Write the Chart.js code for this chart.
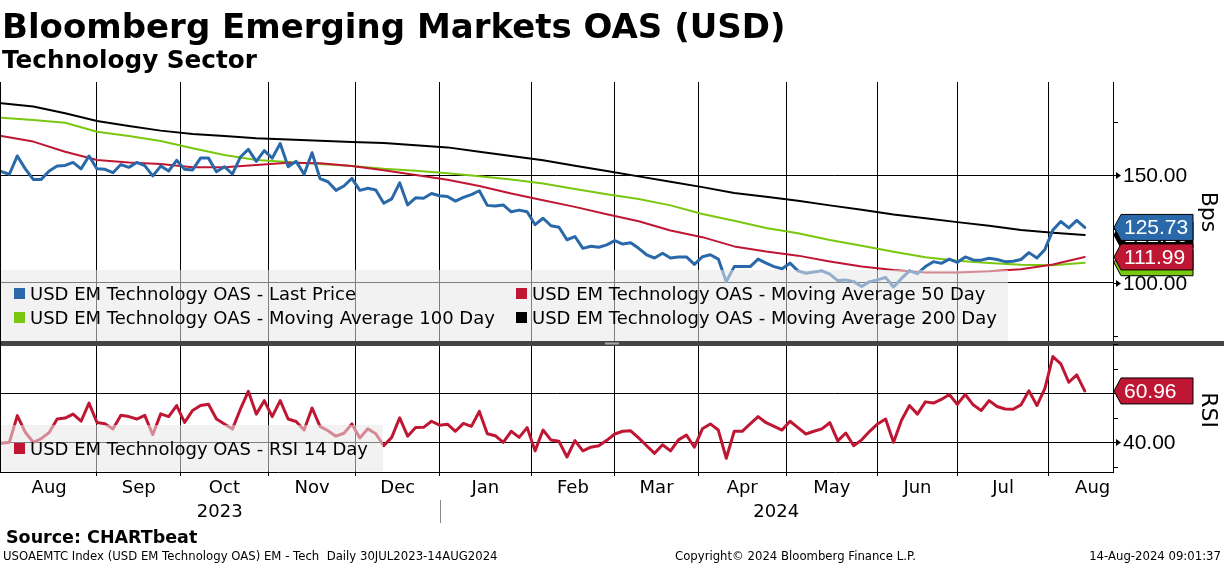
<!DOCTYPE html>
<html>
<head>
<meta charset="utf-8">
<script src="https://cdn.jsdelivr.net/npm/chart.js@4.4.1/dist/chart.umd.min.js"></script>
<style>
  body { margin: 0; background: #fff; }
  #wrap { position: relative; width: 1224px; height: 566px; overflow: hidden; background: #fff; }
  #oasChart { position: absolute; left: 0; top: 0; }
  .txt { position: absolute; white-space: pre; color: #000; font-family: "DejaVu Sans", sans-serif; }
  #title { left: 2px; top: 8.5px; font-size: 34px; line-height: 34px; font-weight: bold; }
  #subtitle { left: 2px; top: 47.5px; font-size: 24.7px; line-height: 24.7px; font-weight: bold; }
  #source { left: 6px; top: 528.5px; font-size: 17.5px; line-height: 17.5px; font-weight: bold; }
  .small { font-size: 11.7px; line-height: 11.7px; top: 551px; }
  #foot1 { left: 3px; }
  #foot2 { left: 675px; }
  #foot3 { right: 3px; }
</style>
</head>
<body>
<div id="wrap">
  <canvas id="oasChart" width="1224" height="566"></canvas>
  <div class="txt" id="title">Bloomberg Emerging Markets OAS (USD)</div>
  <div class="txt" id="subtitle">Technology Sector</div>
  <div class="txt" id="source">Source: CHARTbeat</div>
  <div class="txt small" id="foot1">USOAEMTC Index (USD EM Technology OAS) EM - Tech  Daily 30JUL2023-14AUG2024</div>
  <div class="txt small" id="foot2">Copyright© 2024 Bloomberg Finance L.P.</div>
  <div class="txt small" id="foot3">14-Aug-2024 09:01:37</div>
</div>
<script>
// x axis = trading day index, 0 = Mon 31 Jul 2023, 272 = Wed 14 Aug 2024
const monthLabels = ['Aug', 'Sep', 'Oct', 'Nov', 'Dec', 'Jan', 'Feb', 'Mar', 'Apr', 'May', 'Jun', 'Jul', 'Aug'];
const yearLabels = ['2023', '2024'];

// OAS last price, one reading every 2 trading days (bps)
const priceStep = 2;
const lastPrice = [
  151.7, 150.5, 159.0, 153.0, 148.1, 148.1, 152.0, 154.3, 154.6, 156.0,
  153.0, 159.0, 153.0, 152.8, 151.2, 155.0, 153.7, 156.0, 154.5, 149.7,
  154.3, 152.0, 157.0, 152.8, 152.5, 158.0, 158.0, 151.7, 154.0, 150.6,
  158.5, 162.1, 156.5, 161.5, 158.0, 164.8, 154.0, 156.5, 150.5, 160.5,
  148.5, 147.0, 143.0, 145.0, 148.6, 143.0, 144.0, 143.2, 137.0, 139.0,
  146.5, 136.2, 139.5, 139.3, 141.5, 140.5, 140.1, 138.0, 139.7, 141.0,
  142.8, 136.0, 135.7, 136.2, 133.0, 133.8, 133.0, 127.0, 130.0, 126.5,
  125.8, 120.0, 121.5, 116.0, 117.0, 116.5, 117.6, 119.6, 118.0, 118.6,
  116.0, 113.0, 111.5, 113.7, 111.5, 112.0, 112.0, 108.5, 112.1, 113.0,
  111.0, 100.5, 107.5, 107.6, 107.5, 111.0, 109.1, 107.5, 106.5, 109.1,
  105.5, 104.4, 105.0, 105.5, 104.0, 101.0, 101.3, 100.5, 98.2, 100.5,
  101.3, 102.5, 98.0, 102.0, 105.5, 104.2, 107.5, 109.8, 109.0, 111.0,
  109.5, 112.0, 110.6, 110.5, 111.4, 110.8, 109.8, 110.0, 110.8, 114.0,
  111.5, 115.5, 124.5, 128.5, 125.5, 129.0, 125.73
];

// moving averages, one reading every 8 trading days
const maStep = 8;
const ma50 = [
  168.3, 165.7, 161.0, 157.1, 156.0, 155.3, 153.7, 153.7, 154.8, 155.9,
  155.6, 154.3, 152.3, 150.1, 147.9, 145.0, 141.5, 138.4, 135.3, 131.9,
  128.6, 124.3, 121.2, 116.9, 114.5, 112.6, 109.9, 107.5, 105.9, 104.7,
  104.7, 105.3, 106.3, 108.5, 111.99
];
const ma100 = [
  176.8, 175.7, 174.5, 170.3, 168.3, 166.0, 162.6, 159.5, 157.1, 156.2,
  155.3, 154.3, 153.0, 152.1, 151.0, 149.6, 148.0, 146.2, 143.6, 141.2,
  139.0, 136.0, 132.0, 128.8, 125.5, 123.0, 119.9, 117.2, 114.4, 111.9,
  110.2, 109.2, 108.3, 108.1, 109.3
];
const ma200 = [
  183.5, 182.0, 178.9, 175.3, 173.0, 170.8, 169.2, 168.3, 167.2, 166.7,
  166.1, 165.5, 165.0, 164.0, 163.0, 161.0, 159.0, 157.0, 154.5, 152.0,
  149.5, 147.0, 144.5, 141.8, 140.0, 138.2, 136.0, 134.0, 131.8, 130.0,
  128.2, 126.5, 124.5, 123.2, 122.2
];

// RSI 14 day, one reading every 2 trading days
const rsiStep = 2;
const rsi14 = [
  39.6, 40.0, 50.9, 44.1, 40.0, 41.5, 44.0, 49.5, 49.9, 51.5,
  48.6, 56.0, 48.1, 47.6, 45.4, 51.0, 50.5, 49.5, 51.0, 43.1,
  51.6, 50.5, 55.0, 48.1, 53.0, 55.0, 55.5, 49.5, 47.5, 45.4,
  53.5, 60.8, 51.5, 57.0, 50.5, 57.0, 49.5, 48.5, 45.0, 54.0,
  46.5, 44.7, 42.5, 43.7, 47.5, 41.8, 45.5, 43.5, 38.6, 42.0,
  50.0, 42.5, 46.0, 46.1, 48.6, 47.0, 47.4, 44.5, 47.7, 46.5,
  52.6, 43.5, 42.7, 40.0, 44.5, 42.0, 46.0, 36.5, 45.0, 40.9,
  40.4, 34.0, 40.7, 36.5, 38.0, 38.6, 40.8, 43.4, 44.5, 44.7,
  41.8, 38.6, 35.5, 39.0, 36.5, 41.0, 43.0, 38.0, 45.5, 47.5,
  45.0, 33.5, 44.5, 44.5, 47.5, 50.5, 48.0, 46.5, 45.0, 48.6,
  46.0, 43.4, 44.5, 45.5, 48.0, 40.6, 43.8, 38.6, 41.0, 44.5,
  47.5, 49.5, 40.0, 49.0, 55.0, 51.5, 56.5, 56.0, 57.5, 59.5,
  55.5, 59.5, 55.3, 53.0, 57.0, 54.6, 53.6, 53.5, 55.3, 61.0,
  55.0, 62.0, 75.0, 72.0, 64.5, 67.5, 60.96
];

const seriesNames = [
  'USD EM Technology OAS - Last Price',
  'USD EM Technology OAS - Moving Average 50 Day',
  'USD EM Technology OAS - Moving Average 100 Day',
  'USD EM Technology OAS - Moving Average 200 Day',
  'USD EM Technology OAS - RSI 14 Day'
];
const BLUE = '#2a69a9', RED = '#bf1733', GREEN = '#7ac70f', BLACK = '#000000';

// weekday calendar used by the axis (runs to the end of Aug 2024)
const calendar = [];
for (let d = new Date(Date.UTC(2023, 6, 31)); d <= new Date(Date.UTC(2024, 7, 31)); d.setUTCDate(d.getUTCDate() + 1)) {
  const wd = d.getUTCDay();
  if (wd !== 0 && wd !== 6) calendar.push(new Date(d));
}
const monthStarts = [];
for (let i = 1; i < calendar.length; i++) {
  if (calendar[i].getUTCMonth() !== calendar[i - 1].getUTCMonth()) monthStarts.push(i);
}
monthStarts.push(calendar.length);
const gridTicks = monthStarts.slice(1, -1);           // Sep 2023 .. Aug 2024
const labelTicks = new Map();
monthLabels.forEach((m, k) => {
  const a = k === 0 ? 0 : monthStarts[k];
  labelTicks.set((a + monthStarts[k + 1]) / 2, m);
});
const newYear = monthStarts[5];                       // 1 Jan 2024
const X_MIN = -0.35, X_MAX = 279.1;

const toPoints = (vals, step) => vals.map((v, k) => ({ x: k * step, y: v }));

const panelDecor = {
  id: 'panelDecor',
  afterDatasetsDraw(chart) {
    const { ctx, chartArea, scales } = chart;
    const yP = scales.y, yR = scales.y2, xs = scales.x;
    const R = chartArea.right;
    ctx.save();

    // legend panels (semi transparent)
    ctx.fillStyle = 'rgba(231,231,231,0.55)';
    ctx.fillRect(0, 270, 1008, yP.bottom - 270);
    ctx.fillRect(0, 425, 383, chartArea.bottom - 425 - 0.5);

    ctx.textBaseline = 'middle';
    ctx.textAlign = 'left';
    ctx.font = '18px "DejaVu Sans"';
    const entries = [
      [14, 294, BLUE, seriesNames[0]],
      [516, 294, RED, seriesNames[1]],
      [14, 318, GREEN, seriesNames[2]],
      [516, 318, BLACK, seriesNames[3]],
      [14, 449, RED, seriesNames[4]]
    ];
    entries.forEach(([x, y, c, t]) => {
      ctx.fillStyle = c;
      ctx.fillRect(x, y - 6, 11, 11);
      ctx.fillStyle = '#000';
      ctx.fillText(t, x + 16, y + 1);
    });

    // panel splitter
    ctx.fillStyle = '#444';
    ctx.fillRect(0, 341, 1224, 5);
    ctx.fillStyle = '#aaa';
    ctx.fillRect(605, 342.5, 14, 2);

    // left frame
    ctx.strokeStyle = '#000';
    ctx.lineWidth = 1;
    ctx.beginPath();
    ctx.moveTo(0.5, chartArea.top);
    ctx.lineTo(0.5, chartArea.bottom);
    ctx.stroke();

    // right axis ticks and labels
    const minor = (scale, v) => {
      const y = Math.round(scale.getPixelForValue(v)) + 0.5;
      ctx.beginPath(); ctx.moveTo(R, y); ctx.lineTo(R + 5, y); ctx.stroke();
    };
    const major = (scale, v) => {
      const y = Math.round(scale.getPixelForValue(v)) + 0.5;
      ctx.beginPath(); ctx.moveTo(R, y); ctx.lineTo(R + 4, y); ctx.stroke();
      ctx.fillStyle = '#000';
      ctx.beginPath(); ctx.moveTo(R + 3, y - 3.5); ctx.lineTo(R + 8, y); ctx.lineTo(R + 3, y + 3.5); ctx.closePath(); ctx.fill();
      ctx.font = '21px "Liberation Sans"';
      ctx.fillText(v.toFixed(2), R + 10, y + 1);
    };
    [75, 125, 175].forEach(v => minor(yP, v));
    [30, 50, 70, 80].forEach(v => minor(yR, v));
    [100, 150].forEach(v => major(yP, v));
    [40, 60].forEach(v => major(yR, v));

    // last value tags
    const tag = (scale, v, fill) => {
      const y = scale.getPixelForValue(v);
      ctx.beginPath();
      ctx.moveTo(R + 1, y);
      ctx.lineTo(R + 8, y - 13);
      ctx.lineTo(R + 80, y - 13);
      ctx.lineTo(R + 80, y + 13);
      ctx.lineTo(R + 8, y + 13);
      ctx.closePath();
      ctx.fillStyle = fill;
      ctx.fill();
      ctx.strokeStyle = '#000';
      ctx.stroke();
      ctx.fillStyle = '#fff';
      ctx.font = '21px "Liberation Sans"';
      ctx.fillText(v.toFixed(2), R + 11, y + 1);
    };
    tag(yP, ma200[ma200.length - 1], BLACK);
    tag(yP, lastPrice[lastPrice.length - 1], BLUE);
    tag(yP, ma100[ma100.length - 1], GREEN);
    tag(yP, ma50[ma50.length - 1], RED);
    tag(yR, rsi14[rsi14.length - 1], RED);

    // rotated axis titles
    ctx.fillStyle = '#000';
    ctx.font = '22px "DejaVu Sans"';
    ctx.textAlign = 'center';
    [['Bps', 212], ['RSI', 410]].forEach(([t, y]) => {
      ctx.save();
      ctx.translate(1208, y);
      ctx.rotate(Math.PI / 2);
      ctx.fillText(t, 0, 0);
      ctx.restore();
    });

    // years under the months
    ctx.font = '18px "DejaVu Sans"';
    const xNY = xs.getPixelForValue(newYear);
    ctx.fillText(yearLabels[0], (xs.getPixelForValue(X_MIN) + xNY) / 2, 512);
    ctx.fillText(yearLabels[1], (xNY + xs.getPixelForValue(X_MAX)) / 2, 512);
    ctx.strokeStyle = '#888';
    ctx.beginPath();
    ctx.moveTo(Math.round(xNY) + 0.5, 500);
    ctx.lineTo(Math.round(xNY) + 0.5, 523);
    ctx.stroke();

    ctx.restore();
  }
};

new Chart(document.getElementById('oasChart').getContext('2d'), {
  type: 'line',
  data: {
    datasets: [
      { data: toPoints(lastPrice, priceStep), borderColor: BLUE, borderWidth: 3, yAxisID: 'y' },
      { data: toPoints(ma50, maStep), borderColor: RED, borderWidth: 2, yAxisID: 'y' },
      { data: toPoints(ma100, maStep), borderColor: GREEN, borderWidth: 2, yAxisID: 'y' },
      { data: toPoints(ma200, maStep), borderColor: BLACK, borderWidth: 2, yAxisID: 'y' },
      { data: toPoints(rsi14, rsiStep), borderColor: RED, borderWidth: 3, yAxisID: 'y2' }
    ]
  },
  options: {
    responsive: false,
    animation: false,
    layout: { padding: { top: 82, left: 0, right: 0, bottom: 0 } },
    plugins: { legend: { display: false }, tooltip: { enabled: false } },
    elements: {
      point: { radius: 0 },
      line: { tension: 0, borderJoinStyle: 'round', borderCapStyle: 'round', fill: false }
    },
    scales: {
      x: {
        type: 'linear',
        min: X_MIN,
        max: X_MAX,
        afterBuildTicks: s => {
          s.ticks = [...gridTicks, ...labelTicks.keys()].sort((a, b) => a - b).map(v => ({ value: v }));
        },
        afterFit: s => { s.height = 94; },
        grid: {
          color: c => (c.tick && gridTicks.includes(c.tick.value)) ? '#000' : 'rgba(0,0,0,0)',
          lineWidth: 1,
          tickLength: 4
        },
        border: { color: '#000', width: 1 },
        ticks: {
          autoSkip: false,
          maxRotation: 0,
          padding: 2,
          color: '#000',
          font: { family: 'DejaVu Sans', size: 18 },
          callback: v => labelTicks.get(v) || ''
        }
      },
      y: {
        type: 'linear',
        position: 'right',
        stack: 'panels',
        stackWeight: 262,
        min: 71.46,
        max: 193.44,
        afterBuildTicks: s => { s.ticks = [{ value: 100 }, { value: 150 }]; },
        afterFit: s => { s.width = 111; },
        grid: { color: '#000', drawTicks: false },
        border: { color: '#000', width: 1 },
        ticks: { display: false }
      },
      y2: {
        type: 'linear',
        position: 'right',
        stack: 'panels',
        stackWeight: 128,
        min: 27.88,
        max: 80.12,
        afterBuildTicks: s => { s.ticks = [{ value: 40 }, { value: 60 }]; },
        afterFit: s => { s.width = 111; },
        grid: { color: '#000', drawTicks: false },
        border: { color: '#000', width: 1 },
        ticks: { display: false }
      }
    }
  },
  plugins: [panelDecor]
});
</script>
</body>
</html>
